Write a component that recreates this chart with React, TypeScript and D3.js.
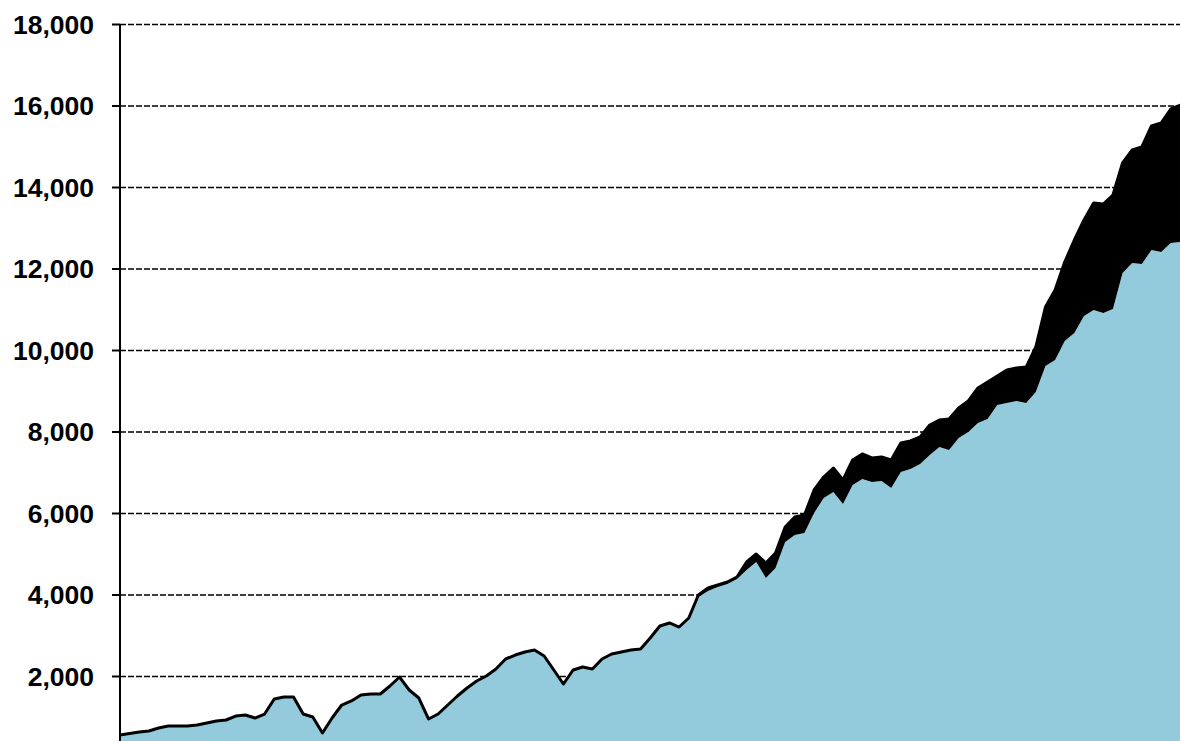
import React from 'react';
import * as d3 from 'd3';

// lower series (light blue)
const baseValues = [
  552, 589, 626, 650, 724, 773, 773, 773, 798, 847,
  896, 920, 1018, 1043, 969, 1067, 1436, 1485, 1485, 1067,
  994, 601, 969, 1288, 1387, 1534, 1558, 1558, 1755, 1975,
  1656, 1460, 945, 1067, 1288, 1509, 1706, 1877, 2000, 2172,
  2417, 2515, 2589, 2638, 2491, 2147, 1804, 2147, 2221, 2172,
  2417, 2540, 2589, 2638, 2663, 2933, 3227, 3301, 3202, 3423,
  3939, 4086, 4184, 4258, 4380, 4601, 4798, 4405, 4650, 5288,
  5460, 5509, 6000, 6368, 6515, 6221, 6687, 6834, 6761, 6785,
  6614, 7006, 7080, 7202, 7423, 7620, 7546, 7841, 7988, 8209,
  8307, 8650, 8699, 8748, 8699, 8969, 9607, 9755, 10221, 10417,
  10834, 10982, 10908, 11006, 11890, 12135, 12111, 12454, 12405, 12626,
  12650,
];

// upper series (black), stacked on top
const topValues = [
  0, 0, 0, 0, 0, 0, 0, 0, 0, 0,
  0, 0, 0, 0, 0, 0, 0, 0, 0, 0,
  0, 0, 0, 0, 0, 0, 0, 0, 0, 0,
  0, 0, 0, 0, 0, 0, 0, 0, 0, 0,
  0, 0, 0, 0, 0, 0, 0, 0, 0, 0,
  0, 0, 0, 0, 0, 0, 0, 0, 0, 0,
  49, 74, 49, 49, 49, 196, 196, 368, 368, 368,
  442, 442, 564, 515, 589, 589, 614, 614, 589, 589,
  687, 712, 687, 663, 736, 663, 761, 736, 761, 859,
  908, 712, 810, 810, 883, 1104, 1448, 1718, 1939, 2282,
  2356, 2626, 2675, 2798, 2699, 2773, 2871, 3043, 3166, 3288,
  3362,
];

const yTicks = [2000, 4000, 6000, 8000, 10000, 12000, 14000, 16000, 18000];

const width = 1180;
const height = 741;
const left = 120;
const right = 1180;

const App = () => {
  const periods = baseValues.map((_, i) => i);
  const rows = periods.map(i => ({ i, base: baseValues[i], top: topValues[i] }));

  const x = d3.scaleLinear().domain([0, periods.length - 1]).range([left, right + 0.4]);
  const y = d3.scaleLinear().domain([0, 18000]).range([757.5, 24]);

  const stacked = d3.stack().keys(['base', 'top'])(rows);

  const area = d3.area()
    .x((d, i) => x(i))
    .y0(d => y(d[0]))
    .y1(d => y(d[1]));

  const outline = d3.line()
    .x((d, i) => x(i))
    .y(d => y(d[1]));

  const fmt = d3.format(',');

  return (
    <svg width={width} height={height} style={{ position: 'absolute', left: 0, top: 0, background: '#fff' }}>
      {/* grid */}
      {yTicks.map(t => (
        <line key={'g' + t} x1={left} x2={right} y1={y(t) + 0.5} y2={y(t) + 0.5}
          stroke="#000" strokeWidth={1.6} strokeDasharray="6,2" />
      ))}

      <path d={area(stacked[0])} fill="#93cbdc" />
      <path d={area(stacked[1])} fill="#000" />
      <path d={outline(stacked[1])} fill="none" stroke="#000" strokeWidth={3} strokeLinejoin="round" />

      {/* y axis */}
      <line x1={left} x2={left} y1={y(18000)} y2={height} stroke="#000" strokeWidth={2} />
      {yTicks.map(t => (
        <g key={'t' + t}>
          <line x1={left - 8} x2={left} y1={y(t) + 0.5} y2={y(t) + 0.5} stroke="#000" strokeWidth={2} />
          <text x={94} y={y(t)} dy="0.37em" textAnchor="end"
            fontFamily="'Liberation Sans', Arial, sans-serif" fontWeight="bold" fontSize={26.5} fill="#000">
            {fmt(t)}
          </text>
        </g>
      ))}
    </svg>
  );
};

export default App;
